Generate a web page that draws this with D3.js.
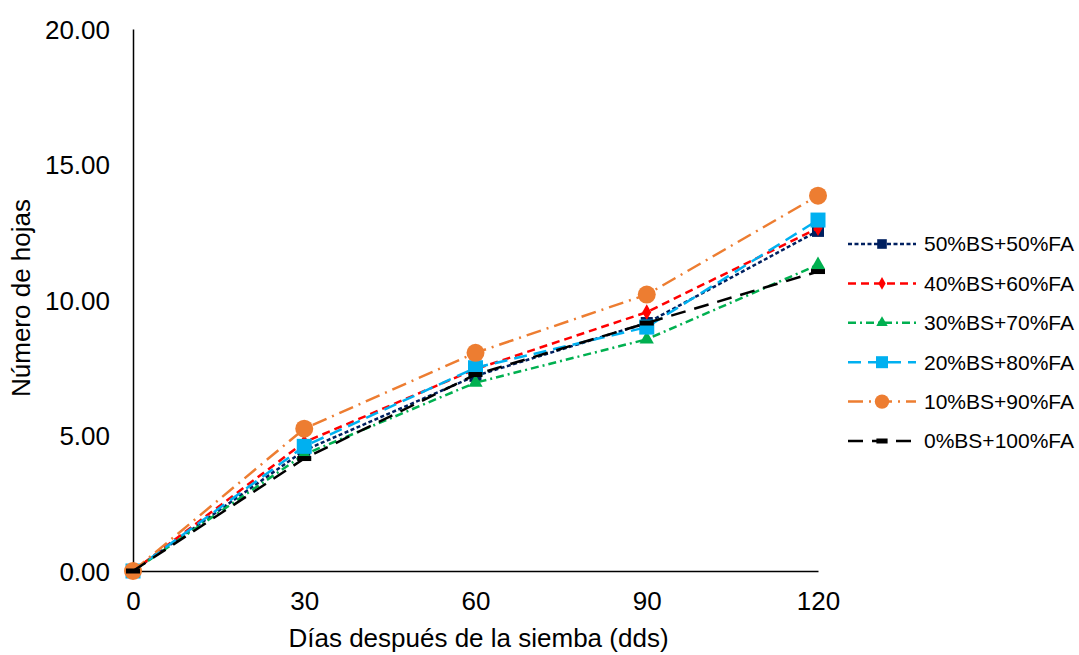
<!DOCTYPE html>
<html>
<head>
<meta charset="utf-8">
<script src="https://cdn.jsdelivr.net/npm/d3@7"></script>
<style>
  body { margin: 0; background: #fff; }
  text { font-family: "Liberation Sans", Arial, sans-serif; fill: #000; }
</style>
</head>
<body>
<div id="wrapper"></div>
<script>
const days = [0, 30, 60, 90, 120]
const yTicks = [0, 5, 10, 15, 20]

const bs50 = [0, 4.45, 7.2, 9.15, 12.55]
const bs40 = [0, 4.75, 7.45, 9.55, 12.65]
const bs30 = [0, 4.3, 6.95, 8.55, 11.3]
const bs20 = [0, 4.6, 7.5, 9.0, 12.95]
const bs10 = [0, 5.25, 8.05, 10.2, 13.85]
const bs0 = [0, 4.15, 7.25, 9.15, 11.05]

const seriesNames = ["50%BS+50%FA", "40%BS+60%FA", "30%BS+70%FA", "20%BS+80%FA", "10%BS+90%FA", "0%BS+100%FA"]
const seriesValues = [bs50, bs40, bs30, bs20, bs10, bs0]

// styles for each series
const styles = [
  { color: "#002060", dash: "4,2.5", marker: "square", size: 12 },
  { color: "#FF0000", dash: "8,5", marker: "diamond", size: 12 },
  { color: "#00B050", dash: "8,4,2,4", marker: "triangle", size: 14 },
  { color: "#00B0F0", dash: "13,7", marker: "square", size: 15 },
  { color: "#ED7D31", dash: "15,6,2,6", marker: "circle", size: 18 },
  { color: "#000000", dash: "15,9", marker: "dash", size: 14 },
]

const dimensions = {
  width: 1079,
  height: 655,
  margin: { top: 29, left: 133 },
}
const plotRight = 818
const plotBottom = 571

const wrapper = d3.select("#wrapper")
  .append("svg")
  .attr("width", dimensions.width)
  .attr("height", dimensions.height)

const xScale = d3.scalePoint()
  .domain(days)
  .range([dimensions.margin.left, plotRight])

const yScale = d3.scaleLinear()
  .domain([0, 20])
  .range([plotBottom, dimensions.margin.top])

// axes
const yAxis = wrapper.append("g")
  .attr("transform", `translate(${dimensions.margin.left},0)`)
  .call(d3.axisLeft(yScale).tickValues(yTicks).tickSize(0).tickPadding(23).tickFormat(d3.format(".2f")))
yAxis.select(".domain").attr("stroke", "#000").attr("stroke-width", 1.5)
yAxis.selectAll(".tick text")
  .attr("font-size", 26)
  .attr("font-family", "Liberation Sans, Arial, sans-serif")
  .attr("dy", "0.35em")

const xAxis = wrapper.append("g")
  .attr("transform", `translate(0,${plotBottom})`)
  .call(d3.axisBottom(xScale).tickSize(0).tickPadding(21))
xAxis.select(".domain").attr("stroke", "#000").attr("stroke-width", 1.5)
xAxis.selectAll(".tick text")
  .attr("font-size", 26)
  .attr("font-family", "Liberation Sans, Arial, sans-serif")

wrapper.append("text")
  .attr("x", (dimensions.margin.left + plotRight) / 2 + 3)
  .attr("y", 647)
  .attr("text-anchor", "middle")
  .attr("font-size", 26)
  .text("Días después de la siemba (dds)")

wrapper.append("text")
  .attr("transform", `translate(30,${298}) rotate(-90)`)
  .attr("text-anchor", "middle")
  .attr("font-size", 26)
  .text("Número de hojas")

function drawMarker(g, style, x, y) {
  const s = style.size
  if (style.marker === "circle") {
    g.append("circle").attr("cx", x).attr("cy", y).attr("r", s / 2).attr("fill", style.color)
  } else if (style.marker === "square") {
    g.append("rect").attr("x", x - s / 2).attr("y", y - s / 2).attr("width", s).attr("height", s).attr("fill", style.color)
  } else if (style.marker === "diamond") {
    g.append("path").attr("d", d3.symbol(d3.symbolDiamond, s * s * 0.5)()).attr("transform", `translate(${x},${y})`).attr("fill", style.color)
  } else if (style.marker === "triangle") {
    g.append("path").attr("d", d3.symbol(d3.symbolTriangle, s * s * 0.45)()).attr("transform", `translate(${x},${y})`).attr("fill", style.color)
  } else if (style.marker === "dash") {
    g.append("rect").attr("x", x - s / 2).attr("y", y - 2.5).attr("width", s).attr("height", 5).attr("fill", style.color)
  }
}

// lines
const line = d3.line()
  .x((d, i) => xScale(days[i]))
  .y(d => yScale(d))

seriesValues.forEach((vals, k) => {
  const st = styles[k]
  const g = wrapper.append("g")
  g.append("path")
    .datum(vals)
    .attr("d", line)
    .attr("fill", "none")
    .attr("stroke", st.color)
    .attr("stroke-width", 2.5)
    .attr("stroke-dasharray", st.dash)
  vals.forEach((v, i) => drawMarker(g, st, xScale(days[i]), yScale(v)))
})

// legend
const legendY = d3.scalePoint()
  .domain(seriesNames)
  .range([244, 441])

seriesNames.forEach((name, k) => {
  const st = styles[k]
  const g = wrapper.append("g")
  const y = legendY(name)
  g.append("line")
    .attr("x1", 848).attr("x2", 916)
    .attr("y1", y).attr("y2", y)
    .attr("stroke", st.color)
    .attr("stroke-width", 2.5)
    .attr("stroke-dasharray", st.dash)
  drawMarker(g, { ...st, size: st.size * 0.8 }, 882, y)
  g.append("text")
    .attr("x", 924)
    .attr("y", y)
    .attr("dy", "0.35em")
    .attr("font-size", 21)
    .text(name)
})
</script>
</body>
</html>
